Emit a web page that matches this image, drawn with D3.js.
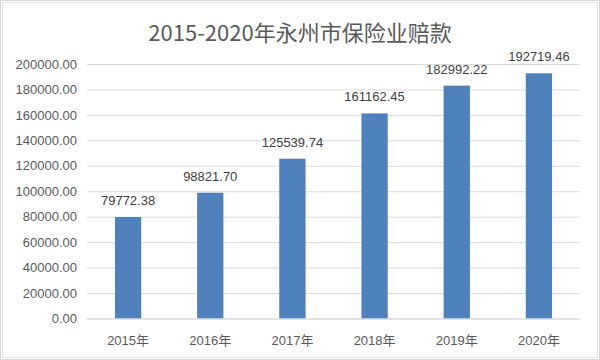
<!DOCTYPE html>
<html><head><meta charset="utf-8">
<script src="https://cdn.jsdelivr.net/npm/d3@7"></script>
<style>body{margin:0;background:#fff}svg{display:block}</style>
</head><body>
<svg id="c" width="600" height="360"></svg>
<script>
const title = "2015-2020年永州市保险业赔款";
const categories = ["2015年","2016年","2017年","2018年","2019年","2020年"];
const values = [79772.38, 98821.70, 125539.74, 161162.45, 182992.22, 192719.46];
const yTicks = [0,20000,40000,60000,80000,100000,120000,140000,160000,180000,200000];

const svg = d3.select("#c");
const font = "'Liberation Sans','Noto Sans CJK SC',sans-serif";
svg.append("rect").attr("x",0.5).attr("y",0.5).attr("width",599).attr("height",359)
  .attr("fill","#fff").attr("stroke","#d9d9d9");
svg.append("rect").attr("x",2.5).attr("y",2.5).attr("width",595).attr("height",355)
  .attr("fill","none").attr("stroke","#e6e6e6");

const m = {left:87, right:580, top:64, bottom:318.5};
const x = d3.scaleBand().domain(categories).range([m.left,m.right]).paddingInner(0.68).paddingOuter(0.34);
const y = d3.scaleLinear().domain([0,200000]).range([m.bottom,m.top]);

svg.append("text").attr("x",300).attr("y",41).attr("text-anchor","middle")
  .attr("font-family","'Noto Sans CJK SC','Liberation Sans',sans-serif").attr("font-size",22)
  .attr("fill","#595959").text(title);

const yAxis = d3.axisLeft(y).tickValues(yTicks).tickSize(-(m.right-m.left)).tickPadding(10)
  .tickFormat(d=>d3.format(".2f")(d));
const gy = svg.append("g").attr("transform",`translate(${m.left},0)`).call(yAxis);
gy.select(".domain").remove();
gy.selectAll(".tick line").attr("stroke","#d9d9d9");
gy.selectAll(".tick text").attr("font-family",font).attr("font-size",13).attr("fill","#595959");

svg.selectAll("rect.bar").data(values).join("rect").attr("class","bar")
  .attr("x",(d,i)=>x(categories[i])).attr("width",x.bandwidth())
  .attr("y",d=>y(d)).attr("height",d=>y(0)-y(d)).attr("fill","#4f81bd");

svg.selectAll("text.lbl").data(values).join("text").attr("class","lbl")
  .attr("x",(d,i)=>x(categories[i])+x.bandwidth()/2).attr("y",d=>y(d)-12)
  .attr("text-anchor","middle").attr("font-family",font).attr("font-size",13)
  .attr("fill","#404040").text(d=>d3.format(".2f")(d));

const xAxis = d3.axisBottom(x).tickSize(0).tickPadding(17);
const gx = svg.append("g").attr("transform",`translate(0,${m.bottom})`).call(xAxis);
gx.select(".domain").attr("stroke","#d9d9d9");
gx.selectAll(".tick text").attr("font-family",font).attr("font-size",13).attr("fill","#595959");
</script>
</body></html>
